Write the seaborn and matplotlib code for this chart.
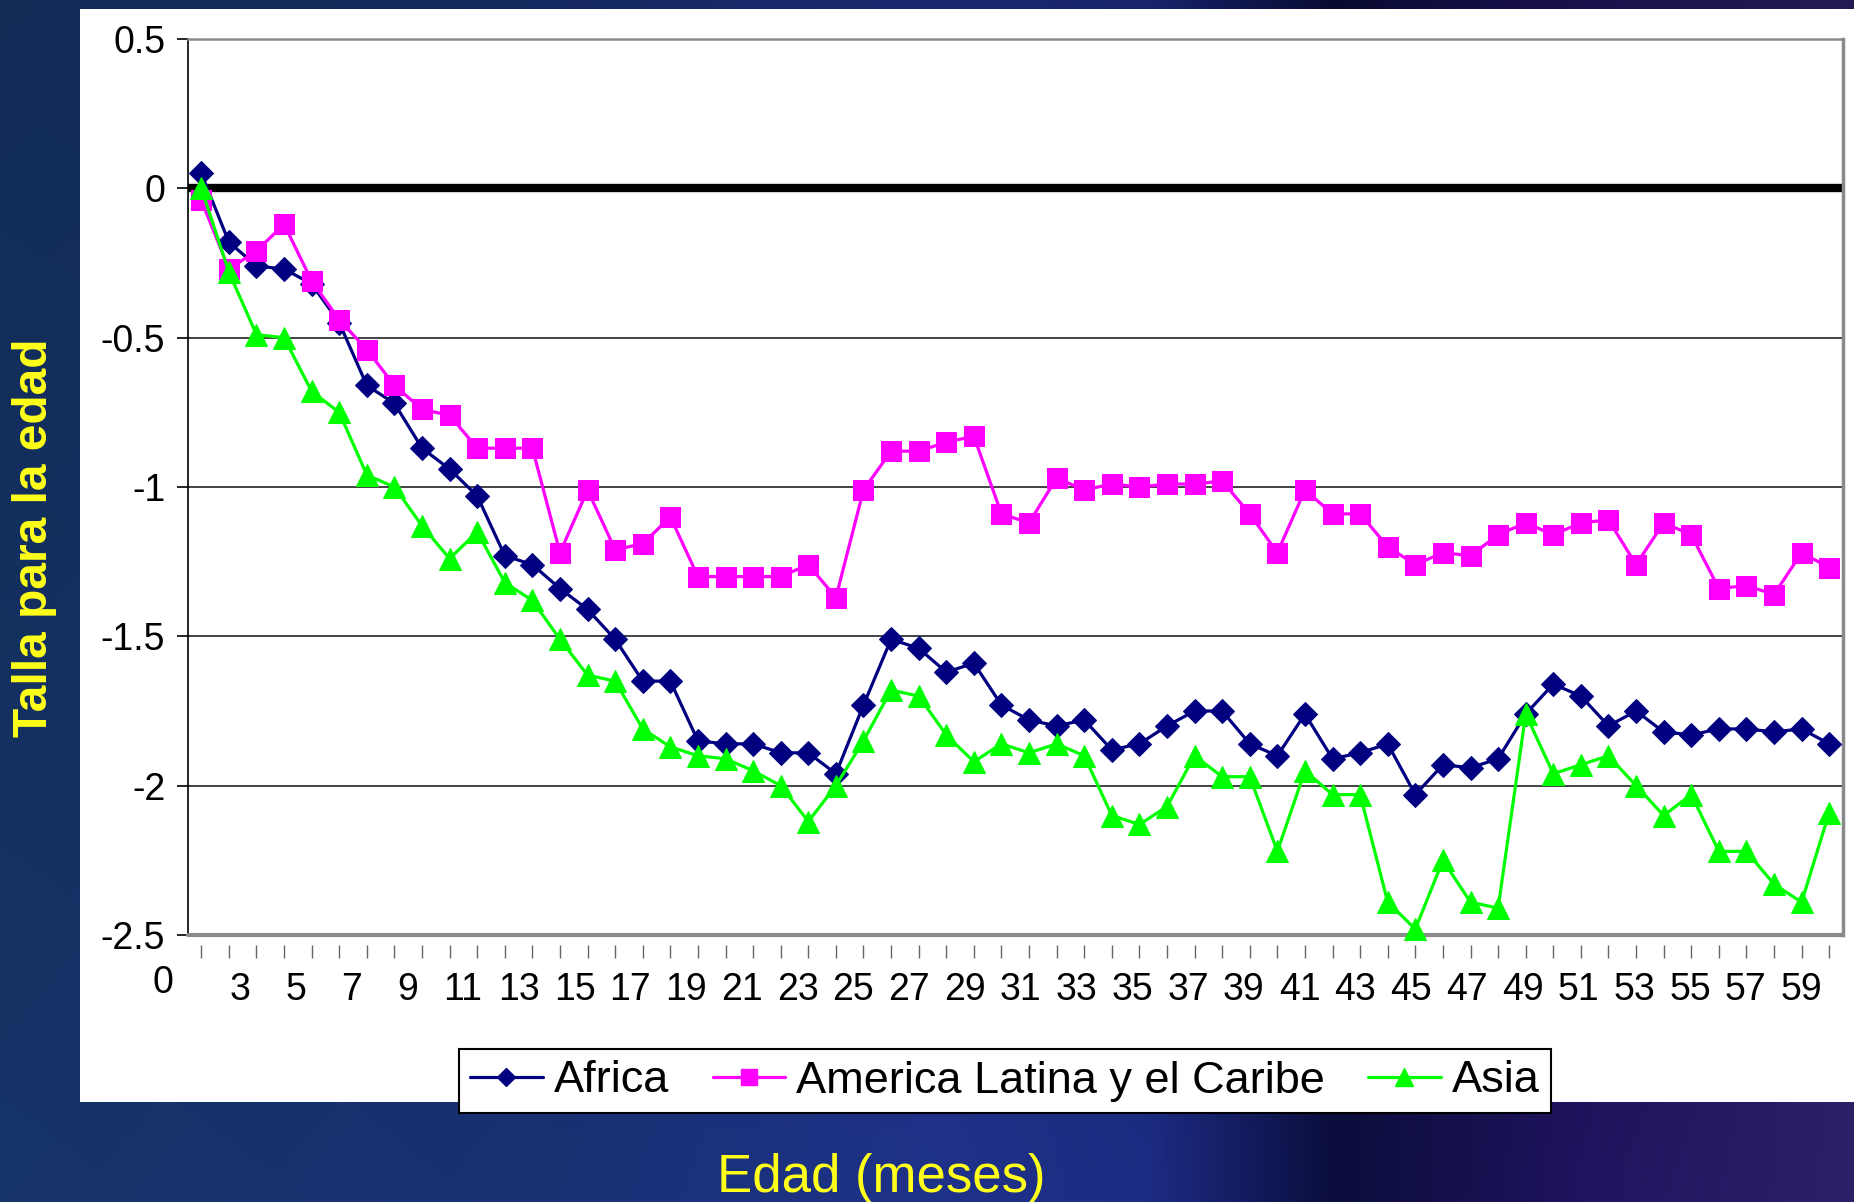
import numpy as np
import pandas as pd
import matplotlib
matplotlib.use("Agg")
import matplotlib.pyplot as plt
from matplotlib.patches import Rectangle
from matplotlib.lines import Line2D
import matplotlib.transforms as mtransforms
import seaborn as sns

# ---------------- data ----------------
meses = list(range(1, 61))
africa = [0.05, -0.18, -0.26, -0.27, -0.32, -0.45, -0.66, -0.72, -0.87, -0.94,
          -1.03, -1.23, -1.26, -1.34, -1.41, -1.51, -1.65, -1.65, -1.85, -1.86,
          -1.86, -1.89, -1.89, -1.96, -1.73, -1.51, -1.54, -1.62, -1.59, -1.73,
          -1.78, -1.80, -1.78, -1.88, -1.86, -1.80, -1.75, -1.75, -1.86, -1.90,
          -1.76, -1.91, -1.89, -1.86, -2.03, -1.93, -1.94, -1.91, -1.76, -1.66,
          -1.70, -1.80, -1.75, -1.82, -1.83, -1.81, -1.81, -1.82, -1.81, -1.86]
america = [-0.04, -0.27, -0.21, -0.12, -0.31, -0.44, -0.54, -0.66, -0.74, -0.76,
           -0.87, -0.87, -0.87, -1.22, -1.01, -1.21, -1.19, -1.10, -1.30, -1.30,
           -1.30, -1.30, -1.26, -1.37, -1.01, -0.88, -0.88, -0.85, -0.83, -1.09,
           -1.12, -0.97, -1.01, -0.99, -1.00, -0.99, -0.99, -0.98, -1.09, -1.22,
           -1.01, -1.09, -1.09, -1.20, -1.26, -1.22, -1.23, -1.16, -1.12, -1.16,
           -1.12, -1.11, -1.26, -1.12, -1.16, -1.34, -1.33, -1.36, -1.22, -1.27]
asia = [0.0, -0.28, -0.49, -0.50, -0.68, -0.75, -0.96, -1.00, -1.13, -1.24,
        -1.15, -1.32, -1.38, -1.51, -1.63, -1.65, -1.81, -1.87, -1.90, -1.91,
        -1.95, -2.00, -2.12, -2.00, -1.85, -1.68, -1.70, -1.83, -1.92, -1.86,
        -1.89, -1.86, -1.90, -2.10, -2.13, -2.07, -1.90, -1.97, -1.97, -2.22,
        -1.95, -2.03, -2.03, -2.39, -2.48, -2.25, -2.39, -2.41, -1.76, -1.96,
        -1.93, -1.90, -2.00, -2.10, -2.03, -2.22, -2.22, -2.33, -2.39, -2.09]
series_names = ["Africa", "America Latina y el Caribe", "Asia"]
x_tick_labels = ["3", "5", "7", "9", "11", "13", "15", "17", "19", "21", "23", "25",
                 "27", "29", "31", "33", "35", "37", "39", "41", "43", "45", "47",
                 "49", "51", "53", "55", "57", "59"]
y_ticks = [0.5, 0, -0.5, -1, -1.5, -2, -2.5]
y_tick_labels = ["0.5", "0", "-0.5", "-1", "-1.5", "-2", "-2.5"]

# ---------------- style ----------------
sns.set_theme(style="white")
plt.rcParams["font.family"] = ["Liberation Sans", "DejaVu Sans"]
plt.rcParams["text.color"] = "black"

W, H = 1854, 1202
fig = plt.figure(figsize=(W / 100, H / 100), dpi=100)

# background gradient (slide background)
bg = fig.add_axes([0, 0, 1, 1], zorder=-10)
xs = np.linspace(0, 1, 400)
stops_x = [0.0, 0.3, 0.5, 0.62, 0.72, 0.85, 1.0]
stops_c = np.array([[20, 48, 95], [22, 45, 105], [28, 45, 125], [26, 40, 120],
                    [10, 12, 55], [28, 18, 85], [40, 30, 95]]) / 255.0
row = np.stack([np.interp(xs, stops_x, stops_c[:, i]) for i in range(3)], axis=-1)
ys = np.linspace(0, 1, 200)[:, None, None]
img = row[None, :, :] * (0.9 + 0.2 * ys)
bg.imshow(np.clip(img, 0, 1), aspect="auto", extent=[0, 1, 0, 1], origin="upper")
bg.axis("off")

# white chart panel
fig.patches.append(Rectangle((80 / W, 1 - 1102 / H), 1 - 80 / W, (1102 - 9) / H,
                             transform=fig.transFigure, facecolor="white",
                             edgecolor="none", zorder=-5))

left, right = 187.5 / W, 1843 / W
top, bottom = 1 - 39 / H, 1 - 935 / H
ax = fig.add_axes([left, bottom, right - left, top - bottom], zorder=1)
ax.set_facecolor("white")

df = pd.DataFrame({"mes": meses, "Africa": africa,
                   "America Latina y el Caribe": america, "Asia": asia})
styles = {
    "Africa": dict(color="#000080", marker="D", markersize=12),
    "America Latina y el Caribe": dict(color="#FF00FF", marker="s", markersize=14),
    "Asia": dict(color="#00FF00", marker="^", markersize=16),
}
for name in series_names:
    st = styles[name]
    sns.lineplot(data=df, x="mes", y=name, ax=ax, color=st["color"],
                 marker=st["marker"], markersize=st["markersize"],
                 markeredgecolor=st["color"], markerfacecolor=st["color"],
                 linewidth=2.3, clip_on=False, zorder=5, label=name, legend=False)

ax.set_xlim(0.5, 60.5)
ax.set_ylim(-2.5, 0.5)

# gridlines / borders
for yv in [-0.5, -1, -1.5, -2]:
    ax.axhline(yv, color="#222222", lw=1.2, zorder=1)
ax.axhline(0, color="black", lw=6, zorder=2)
ax.axhline(-2.5, color="#8a8a8a", lw=3, zorder=3, clip_on=False)

for s in ["top", "right"]:
    ax.spines[s].set_color("#8a8a8a")
ax.spines["top"].set_linewidth(1.8)
ax.spines["right"].set_linewidth(2.5)
ax.spines["left"].set_color("black")
ax.spines["left"].set_linewidth(1.2)
ax.spines["bottom"].set_position(("outward", 7.5))
ax.spines["bottom"].set_visible(False)

# y ticks
ax.set_yticks(y_ticks)
ax.set_yticklabels(y_tick_labels)
ax.tick_params(axis="y", which="major", direction="out", length=8, width=1.2,
               color="black", pad=8, labelsize=27, labelcolor="black", left=True)

# x ticks: marks at every month, labels at odd months
ax.set_xticks(meses, minor=True)
xt_pos = [2.40 + (int(l) - 3) * 1.0107 for l in x_tick_labels]
ax.set_xticks(xt_pos)
ax.set_xticklabels(x_tick_labels)
ax.tick_params(axis="x", which="minor", direction="out", length=9.5, width=1,
               color="#666666", bottom=True)
ax.tick_params(axis="x", which="major", length=0, pad=19, labelsize=27,
               labelcolor="black", bottom=True)
trans = mtransforms.blended_transform_factory(ax.transData, ax.transAxes)
ax.text(-0.39, -0.054, "0", transform=trans, ha="center", va="center",
        fontsize=27, color="black", clip_on=False)

ax.set_xlabel("")
ax.set_ylabel("")
ax.grid(False)

# axis titles (yellow, on slide background)
fig.text(35 / W, 1 - 538 / H, "Talla para la edad", rotation=90, ha="center",
         va="center", fontsize=34.5, fontweight="bold", color="#FFFF1A")
fig.text(881 / W, 1 - 1192 / H, "Edad (meses)", ha="center", va="baseline",
         fontsize=38, color="#FFFF1A")

# legend
handles = [Line2D([0], [0], color=styles[n]["color"], marker=styles[n]["marker"],
                  markersize=styles[n]["markersize"] * 0.8, lw=2.3,
                  markerfacecolor=styles[n]["color"], markeredgecolor=styles[n]["color"])
           for n in series_names]
lx0, lx1 = 459 / W, 1551 / W
ly0, ly1 = 1 - 1118 / H, 1 - 1044 / H
leg = fig.legend(handles, series_names, loc="center",
                 bbox_to_anchor=(lx0, ly0, lx1 - lx0, ly1 - ly0),
                 bbox_transform=fig.transFigure, ncol=3, mode="expand",
                 fontsize=32.5, frameon=True, fancybox=False, edgecolor="black",
                 facecolor="white", framealpha=1, handlelength=1.6,
                 handletextpad=0.25, columnspacing=0.4, borderpad=0.25,
                 borderaxespad=0, labelcolor="black")
leg.get_frame().set_linewidth(1.5)
leg.set_zorder(20)

fig.savefig("out.png", dpi=100)
